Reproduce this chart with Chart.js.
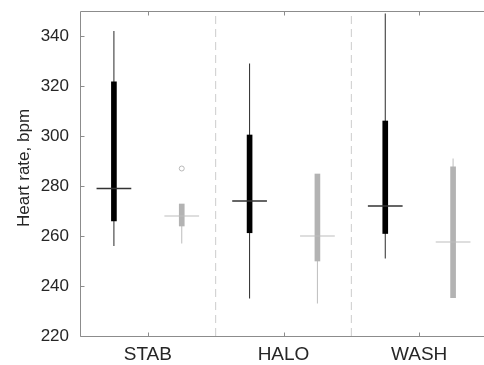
<!DOCTYPE html>
<html><head><meta charset="utf-8">
<script src="https://cdn.jsdelivr.net/npm/chart.js@4/dist/chart.umd.min.js"></script>
<style>
html,body{margin:0;padding:0;overflow:hidden;background:#fff;width:484px;height:365px}
#wrap{position:absolute;left:0;top:0;width:492px;height:365px}
</style></head><body>
<div id="wrap"><canvas id="c" width="492" height="365"></canvas></div>
<script>
// ---- data ----
const categories = ['STAB', 'HALO', 'WASH'];
const yTickValues = [220, 240, 260, 280, 300, 320, 340];

// black series (first box of each group)
const blackLow  = [256, 235, 251];
const blackQ1   = [266, 261.3, 261];
const blackMed  = [279, 274, 272];
const blackQ3   = [321.7, 300.4, 306];
const blackHigh = [342, 329, 349];

// grey series (second box of each group)
const greyLow  = [257, 233, 235.3];
const greyQ1   = [264, 250, 235.3];
const greyMed  = [268, 260, 257.6];
const greyQ3   = [272.8, 284.8, 287.7];
const greyHigh = [272.8, 284.8, 291];

// outliers of the grey series
const greyOutlierGroup = [0];
const greyOutlierValue = [287];

// ---- build datasets ----
const OFF = 0.25, MED = 0.128;
const pos = (i, s) => i + 1 + s * OFF;

function boxData(q1, q3, s) { return categories.map((c, i) => ({x: pos(i, s), y: [q1[i], q3[i]]})); }
function segData(lo, hi, s) {
  const d = [];
  categories.forEach((c, i) => { d.push({x: pos(i, s), y: lo[i]}, {x: pos(i, s), y: hi[i]}, {x: pos(i, s), y: null}); });
  return d;
}
function medData(m, s) {
  const d = [];
  categories.forEach((c, i) => { d.push({x: pos(i, s) - MED, y: m[i]}, {x: pos(i, s) + MED, y: m[i]}, {x: pos(i, s) + MED, y: null}); });
  return d;
}
const dividers = [];
for (let i = 1; i < categories.length; i++) {
  dividers.push({x: i + 0.5, y: 220}, {x: i + 0.5, y: 350}, {x: i + 0.5, y: null});
}

const lineDs = (data, color, extra) => Object.assign({type: 'line', data, borderColor: color, borderWidth: 1, pointRadius: 0, fill: false, spanGaps: false, tension: 0}, extra || {});

const datasets = [
  lineDs(medData(blackMed, -1), '#333333', {borderWidth: 1.3}),
  lineDs(medData(greyMed, 1), '#bdbdbd', {borderWidth: 1.2}),
  lineDs(greyOutlierGroup.map((g, k) => ({x: pos(g, 1), y: greyOutlierValue[k]})), '#b8b8b8', {showLine: false, pointRadius: 2.5, pointBorderWidth: 1, pointBackgroundColor: '#ffffff', pointBorderColor: '#b8b8b8', pointStyle: 'circle'}),
  {type: 'bar', data: boxData(blackQ1, blackQ3, -1), backgroundColor: '#000000', borderWidth: 0, barThickness: 5, grouped: false},
  {type: 'bar', data: boxData(greyQ1, greyQ3, 1), backgroundColor: '#b3b3b3', borderWidth: 0, barThickness: 5, grouped: false},
  lineDs(segData(blackLow, blackHigh, -1), '#2a2a2a'),
  lineDs(segData(greyLow, greyHigh, 1), '#bdbdbd'),
  lineDs(dividers, '#cccccc', {borderDash: [8, 5]})
];

const AXIS = '#8c8c8c';
const TXT = '#262626';
const FONT = 'Liberation Sans, Arial, sans-serif';

const frame = {
  id: 'frame',
  afterDatasetsDraw(chart) {
    const {ctx, chartArea: a, scales: {x, y}} = chart;
    ctx.save();
    ctx.strokeStyle = AXIS; ctx.lineWidth = 1;
    ctx.beginPath();
    const L = Math.round(a.left) + 0.5, T = Math.round(a.top) + 0.5, B = Math.round(a.bottom) + 0.5, R = a.right + 5;
    ctx.moveTo(R, T); ctx.lineTo(L, T); ctx.lineTo(L, B); ctx.lineTo(R, B);
    yTickValues.forEach(v => { const py = Math.round(y.getPixelForValue(v)) + 0.5; ctx.moveTo(L, py); ctx.lineTo(L + 4, py); });
    categories.forEach((c, i) => {
      const px = Math.round(x.getPixelForValue(i + 1)) + 0.5;
      ctx.moveTo(px, B); ctx.lineTo(px, B - 4);
      ctx.moveTo(px, T); ctx.lineTo(px, T + 4);
    });
    ctx.stroke();
    // y-axis title
    ctx.fillStyle = TXT;
    ctx.font = '17px ' + FONT;
    ctx.textAlign = 'center'; ctx.textBaseline = 'middle';
    ctx.translate(24, 168); ctx.rotate(-Math.PI / 2);
    ctx.fillText('Heart rate, bpm', 0, 0);
    ctx.restore();
  }
};

new Chart(document.getElementById('c'), {
  type: 'bar',
  data: {datasets},
  options: {
    responsive: false, animation: false,
    layout: {padding: {top: 11, right: 1, left: 0, bottom: 0}},
    plugins: {legend: {display: false}, tooltip: {enabled: false}},
    scales: {
      x: {
        type: 'linear', min: 0.5, max: 3.5, offset: false,
        grid: {display: false, drawTicks: false}, border: {display: false},
        afterBuildTicks: s => { s.ticks = categories.map((c, i) => ({value: i + 1})); },
        afterFit: s => { s.height = 29; s.paddingLeft = 0; s.paddingRight = 0; },
        ticks: {padding: 7, color: TXT, font: {family: FONT, size: 19}, maxRotation: 0, autoSkip: false,
                callback: v => categories[Math.round(v) - 1] || ''}
      },
      y: {
        type: 'linear', min: 220, max: 350,
        grid: {display: false, drawTicks: false}, border: {display: false},
        afterBuildTicks: s => { s.ticks = yTickValues.map(v => ({value: v})); },
        afterFit: s => { s.width = 80; s.paddingTop = 0; s.paddingBottom = 0; },
        ticks: {padding: 11, color: TXT, font: {family: FONT, size: 17}}
      }
    }
  },
  plugins: [frame]
});
</script>
</body></html>
